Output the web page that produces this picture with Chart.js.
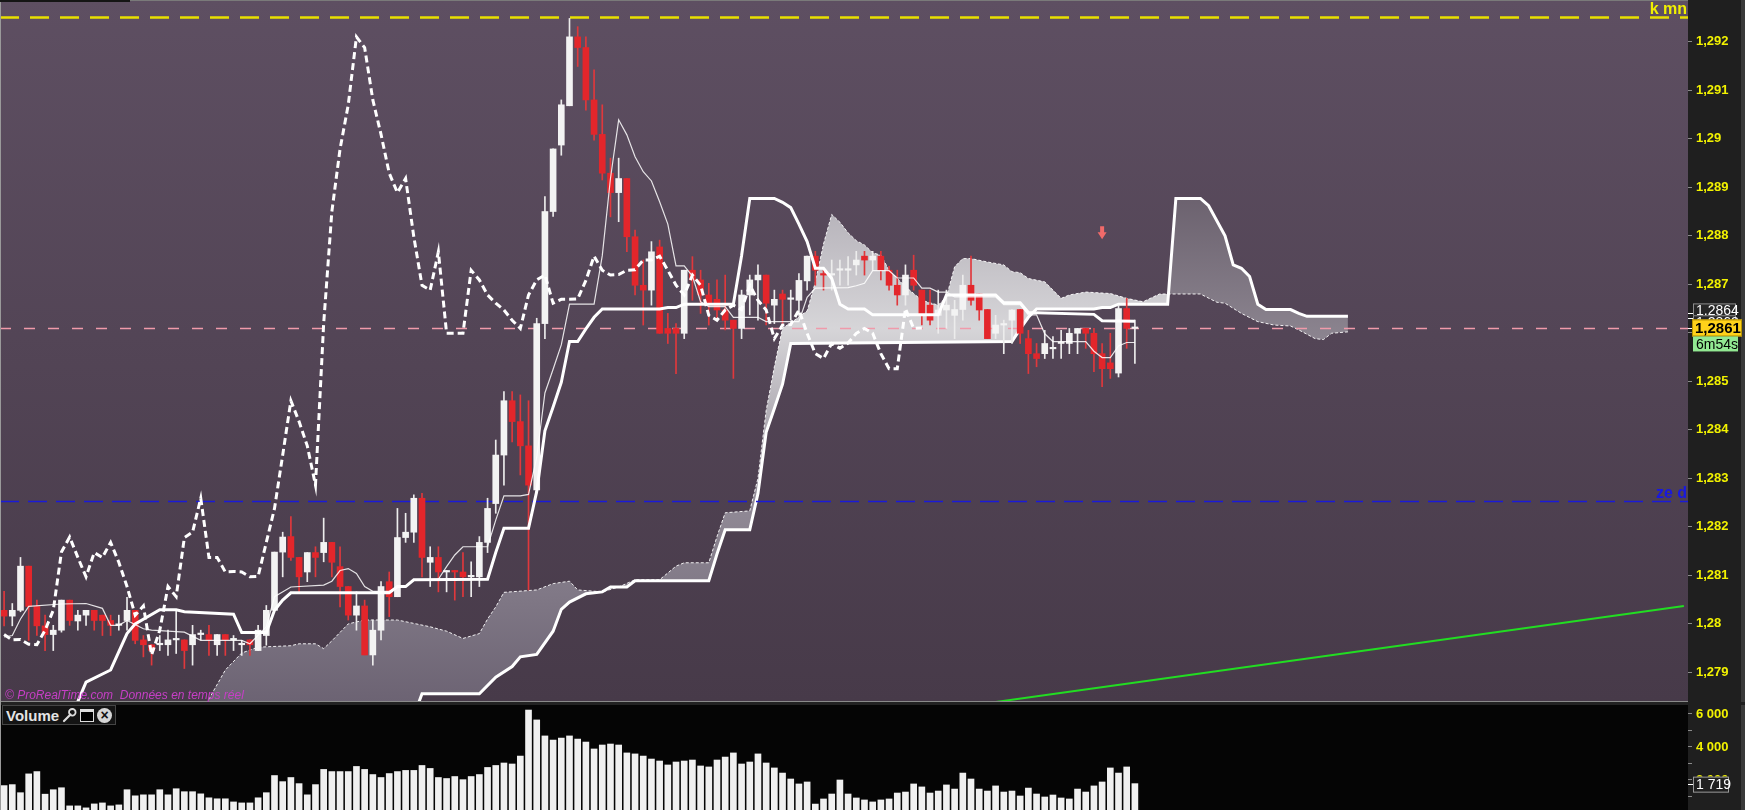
<!DOCTYPE html>
<html lang="fr">
<head>
<meta charset="utf-8">
<title>Ichimoku - Volume</title>
<script src="https://cdn.jsdelivr.net/npm/chart.js@4.4.0/dist/chart.umd.min.js"></script>
<style>
  html, body { margin:0; padding:0; width:1745px; height:810px; overflow:hidden; background:#1f1f1f;
               font-family:"Liberation Sans", Arial, sans-serif; }
  #pricePane { position:absolute; left:0; top:0; width:1745px; height:702px; }
  #volPane { position:absolute; left:0; top:705px; width:1745px; height:107px; }
  #sep { position:absolute; left:0; top:701px; width:1688px; height:4px; background:#222; border-top:1px solid #8a8a8a; box-sizing:border-box; }
  #leftEdge { position:absolute; left:0; top:0; width:1px; height:810px; background:#9a9a9a; }
  #topMark { position:absolute; left:0; top:0; width:130px; height:2px; background:#151515; }
  #watermark { position:absolute; left:5px; top:688px; font-size:12px; font-style:italic; color:#c63fc6; white-space:pre; }
  #volHead { position:absolute; left:2px; top:705px; height:18px; padding:0 3px; background:#141414; border:1px solid #454545;
             display:flex; align-items:center; gap:3px; color:#e4e4e4; font-weight:bold; font-size:15px; }
  #volHead .win { display:inline-block; width:12px; height:9px; border:1.5px solid #ddd; border-top:3px solid #ddd; background:#000; }
  #volHead .cls { display:inline-block; width:15px; height:15px; border-radius:50%; background:#d6d6d6; color:#111;
                  font-size:14px; line-height:14px; text-align:center; }
</style>
</head>
<body>
<div id="pricePane"><canvas id="priceCanvas" width="1745" height="702"></canvas></div>
<div id="sep"></div>
<div id="volPane"><canvas id="volCanvas" width="1745" height="107"></canvas></div>
<div id="leftEdge"></div>
<div id="topMark"></div>
<div id="watermark">© ProRealTime.com  Données en temps réel</div>
<div id="volHead"><span>Volume</span>
  <svg width="15" height="16" viewBox="0 0 15 16"><path d="M2 14 L8.5 7.5" stroke="#ddd" stroke-width="2.2" stroke-linecap="round"/><circle cx="10.3" cy="5.3" r="3.3" fill="none" stroke="#ddd" stroke-width="1.8"/></svg>
  <span class="win"></span><span class="cls">×</span></div>
<script>
// ---- bougies (1 par période) ----
const opens = [
  1.28028,1.28016,1.28028,1.28119,1.28036,1.27996,1.27978,1.27987,1.28049,1.28006,
  1.28018,1.28028,1.28018,1.28007,1.27997,1.28007,1.28028,1.27967,1.27957,1.27957,
  1.27957,1.27967,1.27967,1.27957,1.27978,1.27978,1.27957,1.27978,1.27967,1.27957,
  1.27967,1.27945,1.27976,1.28028,1.28148,1.28180,1.28137,1.28107,1.28147,1.28147,
  1.28168,1.28118,1.28077,1.28018,1.28037,1.27936,1.27987,1.28087,1.28056,1.28178,
  1.28189,1.28259,1.28127,1.28137,1.28107,1.28108,1.28107,1.28097,1.28097,1.28168,
  1.28248,1.28348,1.28460,1.28417,1.28367,1.28276,1.28619,1.28850,1.28987,1.29068,
  1.29210,1.29188,1.29080,1.29009,1.28929,1.28889,1.28918,1.28798,1.28698,1.28688,
  1.28777,1.28609,1.28609,1.28599,1.28729,1.28709,1.28678,1.28669,1.28647,1.28626,
  1.28609,1.28678,1.28709,1.28719,1.28657,1.28680,1.28669,1.28667,1.28707,1.28758,
  1.28720,1.28719,1.28729,1.28729,1.28740,1.28758,1.28750,1.28758,1.28729,1.28698,
  1.28678,1.28729,1.28688,1.28657,1.28636,1.28647,1.28636,1.28648,1.28698,1.28680,
  1.28648,1.28599,1.28616,1.28626,1.28648,1.28588,1.28557,1.28557,1.28567,1.28578,
  1.28578,1.28599,1.28609,1.28599,1.28557,1.28538,1.28517,1.28650,1.28609
];
const highs = [
  1.28067,1.28042,1.28137,1.28119,1.28049,1.28018,1.27997,1.28049,1.28049,1.28028,
  1.28028,1.28028,1.28018,1.28018,1.28018,1.28055,1.28028,1.27976,1.27957,1.27976,
  1.27987,1.28028,1.27967,1.27997,1.27987,1.27997,1.27978,1.27978,1.27976,1.27966,
  1.27967,1.27997,1.28038,1.28148,1.28189,1.28221,1.28137,1.28147,1.28159,1.28218,
  1.28168,1.28159,1.28077,1.28066,1.28049,1.28008,1.28087,1.28107,1.28238,1.28228,
  1.28266,1.28269,1.28159,1.28159,1.28110,1.28110,1.28147,1.28128,1.28180,1.28259,
  1.28379,1.28479,1.28479,1.28472,1.28460,1.28630,1.28881,1.28979,1.29080,1.29248,
  1.29231,1.29210,1.29142,1.29070,1.28960,1.28960,1.28918,1.28812,1.28750,1.28788,
  1.28791,1.28640,1.28619,1.28729,1.28757,1.28729,1.28702,1.28709,1.28719,1.28626,
  1.28688,1.28719,1.28740,1.28719,1.28688,1.28688,1.28688,1.28722,1.28758,1.28768,
  1.28729,1.28750,1.28750,1.28757,1.28768,1.28768,1.28768,1.28768,1.28737,1.28729,
  1.28740,1.28760,1.28688,1.28688,1.28688,1.28688,1.28667,1.28719,1.28758,1.28680,
  1.28648,1.28636,1.28626,1.28648,1.28648,1.28605,1.28578,1.28605,1.28592,1.28605,
  1.28609,1.28609,1.28609,1.28609,1.28578,1.28599,1.28657,1.28671,1.28626
];
const lows = [
  1.27996,1.27996,1.28025,1.27966,1.27976,1.27945,1.27945,1.27983,1.27997,1.27987,
  1.27997,1.27987,1.27976,1.27976,1.27987,1.27987,1.27959,1.27932,1.27915,1.27945,
  1.27935,1.27939,1.27908,1.27915,1.27967,1.27935,1.27935,1.27935,1.27945,1.27935,
  1.27935,1.27945,1.27956,1.28028,1.28097,1.28131,1.28066,1.28087,1.28097,1.28128,
  1.28097,1.28035,1.28008,1.27987,1.27936,1.27915,1.27967,1.28015,1.28056,1.28168,
  1.28168,1.28097,1.28077,1.28066,1.28066,1.28049,1.28056,1.28056,1.28077,1.28147,
  1.28228,1.28286,1.28375,1.28307,1.28070,1.28270,1.28588,1.28840,1.28966,1.29068,
  1.29149,1.29059,1.28997,1.28915,1.28839,1.28829,1.28767,1.28678,1.28616,1.28657,
  1.28599,1.28578,1.28516,1.28588,1.28667,1.28640,1.28616,1.28626,1.28606,1.28506,
  1.28588,1.28637,1.28626,1.28616,1.28619,1.28619,1.28626,1.28636,1.28688,1.28698,
  1.28688,1.28688,1.28698,1.28698,1.28719,1.28719,1.28729,1.28709,1.28688,1.28657,
  1.28657,1.28688,1.28616,1.28616,1.28599,1.28609,1.28588,1.28626,1.28657,1.28626,
  1.28588,1.28588,1.28557,1.28578,1.28578,1.28516,1.28530,1.28547,1.28547,1.28547,
  1.28557,1.28557,1.28568,1.28520,1.28489,1.28506,1.28509,1.28568,1.28537
];
const closes = [
  1.28016,1.28028,1.28119,1.28036,1.27996,1.27978,1.27987,1.28049,1.28007,1.28018,
  1.28028,1.28007,1.28007,1.27997,1.27998,1.28028,1.27966,1.27957,1.27945,1.27959,
  1.27967,1.27968,1.27945,1.27978,1.27979,1.27967,1.27978,1.27967,1.27968,1.27958,
  1.27957,1.27987,1.28028,1.28148,1.28179,1.28137,1.28097,1.28147,1.28137,1.28168,
  1.28127,1.28077,1.28018,1.28037,1.27936,1.27987,1.28077,1.28056,1.28178,1.28189,
  1.28259,1.28137,1.28137,1.28107,1.28108,1.28107,1.28097,1.28098,1.28168,1.28238,
  1.28348,1.28460,1.28417,1.28367,1.28286,1.28619,1.28850,1.28979,1.29070,1.29210,
  1.29188,1.29080,1.29009,1.28929,1.28889,1.28918,1.28798,1.28698,1.28688,1.28767,
  1.28599,1.28599,1.28599,1.28729,1.28709,1.28678,1.28661,1.28647,1.28626,1.28609,
  1.28678,1.28709,1.28719,1.28661,1.28669,1.28669,1.28670,1.28708,1.28758,1.28729,
  1.28719,1.28720,1.28729,1.28730,1.28750,1.28750,1.28758,1.28729,1.28698,1.28678,
  1.28719,1.28698,1.28636,1.28626,1.28647,1.28657,1.28648,1.28698,1.28667,1.28647,
  1.28588,1.28616,1.28617,1.28647,1.28599,1.28557,1.28547,1.28578,1.28568,1.28579,
  1.28599,1.28609,1.28599,1.28557,1.28526,1.28526,1.28650,1.28609,1.28610
];
const volumes = [
  1600,1660,1170,2310,2450,1080,1350,1470,370,370,
  250,490,550,370,430,1350,980,1040,1040,1350,
  1040,1410,1230,1230,1100,860,800,800,610,550,
  550,860,1170,2210,1840,2090,1720,1040,1660,2580,
  2450,2450,2450,2760,2580,2270,2090,2330,2450,2520,
  2520,2820,2640,2090,2030,2150,1960,2150,2270,2700,
  2820,2970,2910,3390,6180,5580,4610,4360,4480,4610,
  4420,4240,3820,4060,4120,4060,3580,3520,3390,3210,
  3090,2850,3030,3090,3150,2790,2730,3150,3330,3580,
  2910,3030,3520,2970,2670,2360,2000,1700,1820,480,
  790,1090,1940,1090,850,730,610,730,790,1150,
  1210,1700,1520,1150,1270,1640,1390,2360,2000,1390,
  1270,1580,1210,1270,970,1450,1090,910,1030,850,
  790,1390,1210,1580,1820,2670,2360,2730,1719
];
const volTickValues = [1000, 2000, 3000, 4000, 5000, 6000];
const volTickLabels = [2000, 4000, 6000];

// ---- Ichimoku : sommets [période, prix] ----
const tenkanPts = [[0,1.27973],[1,1.27976],[2,1.28010],[3,1.28036],[7,1.28041],[10,1.28042],[12,1.28032],[13,1.27997],[14,1.27997],
  [15,1.28007],[17,1.27990],[18,1.27987],[22,1.27983],[24,1.27966],[29,1.27966],[30,1.27959],[32,1.27994],[33,1.28056],[35,1.28076],
  [39,1.28080],[40,1.28088],[41,1.28110],[42,1.28114],[43,1.28104],[44,1.28077],[45,1.28067],[47,1.28067],[48,1.28077],[49,1.28077],
  [50,1.28091],[53,1.28092],[54,1.28118],[55,1.28142],[56,1.28159],[59,1.28159],[60,1.28214],[61,1.28264],[63,1.28264],[64,1.28267],
  [65,1.28343],[66,1.28476],[67,1.28525],[68,1.28575],[69,1.28659],[72,1.28659],[73,1.28759],[74,1.28918],[75,1.29039],[76,1.29008],
  [77,1.28963],[78,1.28932],[79,1.28913],[80,1.28870],[81,1.28824],[82,1.28738],[83,1.28738],[84,1.28717],[85,1.28664],[86,1.28654],
  [88,1.28654],[89,1.28632],[92,1.28632],[93,1.28623],[97,1.28623],[98,1.28673],[99,1.28692],[103,1.28693],[104,1.28697],[105,1.28702],
  [106,1.28728],[108,1.28728],[109,1.28713],[111,1.28713],[112,1.28692],[113,1.28692],[114,1.28684],[115,1.28684],[116,1.28674],
  [121,1.28674],[122,1.28658],[124,1.28658],[125,1.28637],[126,1.28637],[127,1.28598],[128,1.28582],[132,1.28582],[133,1.28562],
  [134,1.28549],[135,1.28549],[136,1.28573],[137,1.28580],[138,1.28580]];
const kijunPts = [[8,1.27800],[10,1.27880],[13,1.27905],[15,1.27980],[16,1.28000],[19,1.28029],[21,1.28029],[22,1.28025],[28,1.28020],
  [29,1.27982],[32,1.27982],[33,1.28028],[34,1.28049],[35,1.28064],[47,1.28064],[48,1.28077],[49,1.28077],[50,1.28091],[59,1.28092],
  [60,1.28147],[61,1.28197],[64,1.28197],[65,1.28273],[66,1.28398],[67,1.28447],[68,1.28498],[69,1.28582],[70,1.28582],[71,1.28608],
  [72,1.28632],[73,1.28649],[80,1.28649],[81,1.28652],[82,1.28652],[83,1.28659],[89,1.28659],[90,1.28759],[91,1.28877],[94,1.28877],
  [95,1.28869],[96,1.28858],[97,1.28824],[98,1.28788],[99,1.28733],[100,1.28733],[101,1.28712],[102,1.28659],[103,1.28649],[105,1.28649],
  [106,1.28637],[114,1.28637],[115,1.28678],[121,1.28678],[122,1.28662],[124,1.28662],[125,1.28642],[133,1.28638],[134,1.28625],[138,1.28624]];
const chikou = [
  1.27978,1.27967,1.27968,1.27958,1.27957,1.27987,1.28028,1.28148,1.28179,1.28137,
  1.28097,1.28147,1.28137,1.28168,1.28127,1.28077,1.28018,1.28037,1.27936,1.27987,
  1.28077,1.28056,1.28178,1.28189,1.28259,1.28137,1.28137,1.28107,1.28108,1.28107,
  1.28097,1.28098,1.28168,1.28238,1.28348,1.28460,1.28417,1.28367,1.28286,1.28619,
  1.28850,1.28979,1.29070,1.29210,1.29188,1.29080,1.29009,1.28929,1.28889,1.28918,
  1.28798,1.28698,1.28688,1.28767,1.28599,1.28599,1.28599,1.28729,1.28709,1.28678,
  1.28661,1.28647,1.28626,1.28609,1.28678,1.28709,1.28719,1.28661,1.28669,1.28669,
  1.28670,1.28708,1.28758,1.28729,1.28719,1.28720,1.28729,1.28730,1.28750,1.28750,
  1.28758,1.28729,1.28698,1.28678,1.28719,1.28698,1.28636,1.28626,1.28647,1.28657,
  1.28648,1.28698,1.28667,1.28647,1.28588,1.28616,1.28617,1.28647,1.28599,1.28557,
  1.28547,1.28578,1.28568,1.28579,1.28599,1.28609,1.28599,1.28557,1.28526,1.28526,
  1.28650,1.28609,1.28610
];
const spanAPts = [[23,1.27780],[25,1.27845],[27,1.27905],[29,1.27940],[31,1.27952],[35,1.27955],[36,1.27959],[38,1.27959],[39,1.27949],
  [40,1.27965],[42,1.28000],[44,1.28008],[48,1.28008],[50,1.28001],[52,1.27994],[54,1.27985],[56,1.27970],[58,1.27980],[59,1.28010],
  [60,1.28035],[61,1.28065],[65,1.28070],[67,1.28083],[69,1.28088],[70,1.28070],[73,1.28066],[75,1.28076],[77,1.28091],[80,1.28091],
  [82,1.28119],[83,1.28126],[86,1.28126],[87,1.28180],[88,1.28229],[91,1.28233],[92,1.28300],[93,1.28440],[94,1.28530],[95,1.28610],
  [96,1.28620],[97,1.28633],[98,1.28645],[99,1.28704],[100,1.28783],[101,1.28844],[102,1.28828],[103,1.28806],[104,1.28790],[105,1.28781],
  [106,1.28765],[107,1.28760],[108,1.28729],[110,1.28695],[111,1.28681],[112,1.28667],[114,1.28657],[115,1.28674],[116,1.28736],
  [117,1.28753],[118,1.28753],[120,1.28746],[122,1.28740],[123,1.28726],[124,1.28724],[125,1.28712],[127,1.28705],[128,1.28688],
  [129,1.28671],[130,1.28678],[132,1.28684],[135,1.28681],[137,1.28671],[139,1.28664],[141,1.28680],[146,1.28680],[148,1.28663],
  [149,1.28661],[151,1.28640],[153,1.28623],[155,1.28616],[157,1.28614],[158,1.28606],[160,1.28588],[161,1.28586],[162,1.28599],[164,1.28602]];
const spanBPts = [[23,1.27760],[50,1.27810],[51,1.27856],[58,1.27856],[60,1.27890],[62,1.27912],[63,1.27932],[65,1.27937],[67,1.27985],
  [68,1.28030],[69,1.28045],[71,1.28062],[73,1.28066],[74,1.28076],[76,1.28076],[77,1.28089],[86,1.28089],[87,1.28144],[88,1.28194],
  [91,1.28194],[92,1.28269],[93,1.28395],[94,1.28444],[95,1.28494],[96,1.28578],[123,1.28582],[124,1.28608],[125,1.28632],[126,1.28649],
  [133,1.28649],[134,1.28652],[135,1.28652],[136,1.28659],[142,1.28659],[143,1.28877],[146,1.28877],[147,1.28862],[149,1.28800],
  [150,1.28740],[151,1.28733],[152,1.28716],[153,1.28659],[154,1.28648],[157,1.28648],[158,1.28640],[159,1.28634],[164,1.28634]];
const trendPts = [[110,1.27813],[205,1.28037]];

// ---- niveaux et étiquettes ----
const levelValues = [1.29251, 1.28254, 1.28610];
const levelNames = ['k mn', 'ze d', ''];
const tagValues = [1.2864, 1.2863];
const lastPrice = 1.2861;
const timerText = '6m54s';
const signalIdx = [134];
const signalPrice = [1.28805];

const SLOTS = 206;
const slotLabels = Array.from({ length: SLOTS }, (_, i) => i);
const sparse = pts => { const a = new Array(SLOTS).fill(null); pts.forEach(([i, v]) => { a[i] = v; }); return a; };
const FONT = '"Liberation Sans", Arial, sans-serif';
const AXIS_W = 57;

const isUp = closes.map((c, i) => c >= opens[i]);
const bodyCol = isUp.map(u => u ? '#f3f3f3' : '#e3262b');
const wickCol = isUp.map(u => u ? '#ececec' : '#e0383c');

const pc = document.getElementById('priceCanvas');
const pctx = pc.getContext('2d');
const cloudUp = pctx.createLinearGradient(0, 190, 0, 702);
cloudUp.addColorStop(0, '#b2aeb6');
cloudUp.addColorStop(0.27, '#d6d5d8');
cloudUp.addColorStop(0.6, '#928b97');
cloudUp.addColorStop(1, '#6c6373');
const cloudDown = pctx.createLinearGradient(0, 190, 0, 345);
cloudDown.addColorStop(0, '#6a606d');
cloudDown.addColorStop(1, '#8d8691');

function drawTag(ctx, x, yc, w, h, fill, stroke, text, color, font) {
  ctx.fillStyle = fill;
  ctx.fillRect(x, yc - h / 2, w, h);
  if (stroke) { ctx.strokeStyle = stroke; ctx.lineWidth = 1; ctx.strokeRect(x + 0.5, yc - h / 2 + 0.5, w - 1, h - 1); }
  ctx.fillStyle = color; ctx.font = font; ctx.textAlign = 'left'; ctx.textBaseline = 'middle';
  ctx.fillText(text, x + 3, yc + 1);
}

const pricePlugin = {
  id: 'pricePlugin',
  beforeDraw(chart) {
    const { ctx, chartArea: a, width, height } = chart;
    ctx.save();
    ctx.fillStyle = '#1f1f1f';
    ctx.fillRect(0, 0, width, height);
    ctx.fillStyle = '#3a3a3a';
    ctx.fillRect(width - 4, 0, 4, height);
    const g = ctx.createLinearGradient(0, a.top, 0, a.bottom);
    g.addColorStop(0, '#5e4f62');
    g.addColorStop(1, '#473a49');
    ctx.fillStyle = g;
    ctx.fillRect(a.left, a.top, a.right - a.left, a.bottom - a.top);
    ctx.fillStyle = '#7a7a7a';
    ctx.fillRect(a.left, 0, a.right - a.left, 1);
    ctx.restore();
  },
  afterDatasetDraw(chart, args) {
    if (args.index !== 1) return;
    const { ctx, chartArea: a, scales: { y } } = chart;
    const colors = ['#e8e000', '#1a1ad8', '#f09aaa'];
    const widths = [2.5, 1.5, 1.3];
    const dashes = [[19, 11], [19, 9], [11, 13]];
    ctx.save();
    levelValues.forEach((v, k) => {
      const py = Math.round(y.getPixelForValue(v)) + 0.5;
      ctx.strokeStyle = colors[k]; ctx.lineWidth = widths[k]; ctx.setLineDash(dashes[k]);
      ctx.beginPath(); ctx.moveTo(a.left, py); ctx.lineTo(a.right, py); ctx.stroke();
    });
    ctx.restore();
  },
  afterDraw(chart) {
    const { ctx, chartArea: a, scales: { x, y } } = chart;
    ctx.save();
    // libellés des niveaux
    const colors = ['#f0f000', '#1818e0'];
    levelNames.forEach((name, k) => {
      if (!name) return;
      const py = y.getPixelForValue(levelValues[k]);
      ctx.fillStyle = colors[k]; ctx.font = 'bold 16px ' + FONT;
      ctx.textAlign = 'right'; ctx.textBaseline = 'alphabetic';
      ctx.fillText(name, a.right - 1, py - 3);
    });
    // flèche de signal
    ctx.fillStyle = '#f06a6a';
    signalIdx.forEach((idx, k) => {
      const ax = x.getPixelForValue(idx), ay = y.getPixelForValue(signalPrice[k]);
      ctx.beginPath();
      ctx.moveTo(ax - 2, ay - 7); ctx.lineTo(ax + 2, ay - 7); ctx.lineTo(ax + 2, ay - 1);
      ctx.lineTo(ax + 4.5, ay - 1); ctx.lineTo(ax, ay + 6); ctx.lineTo(ax - 4.5, ay - 1); ctx.lineTo(ax - 2, ay - 1);
      ctx.closePath(); ctx.fill();
    });
    // étiquettes de prix
    const fmt = v => v.toFixed(4).replace('.', ',');
    ctx.strokeStyle = '#ffffff'; ctx.lineWidth = 1;
    tagValues.concat([lastPrice]).forEach(v => {
      const py = Math.round(y.getPixelForValue(v)) + 0.5;
      ctx.beginPath(); ctx.moveTo(a.right, py); ctx.lineTo(a.right + 5, py); ctx.stroke();
    });
    const shift = [-3, 4];
    tagValues.forEach((v, k) => {
      drawTag(ctx, a.right + 5, y.getPixelForValue(v) + shift[k], 43, 14, '#262626', '#8c8c8c', fmt(v), '#ffffff', '14px ' + FONT);
    });
    const lp = y.getPixelForValue(lastPrice);
    drawTag(ctx, a.right + 4, lp, 50, 17, '#ffd21a', '#b89400', fmt(lastPrice), '#000000', 'bold 15px ' + FONT);
    drawTag(ctx, a.right + 5, lp + 16, 45, 15, '#92e892', null, timerText, '#000000', '14px ' + FONT);
    ctx.restore();
  }
};

new Chart(pctx, {
  type: 'bar',
  data: {
    labels: slotLabels,
    datasets: [
      { type: 'line', label: 'Senkou A', data: sparse(spanAPts), borderColor: 'rgba(255,255,255,0.9)', borderWidth: 1,
        borderDash: [3, 2], pointRadius: 0, spanGaps: true, tension: 0,
        fill: { target: 1, above: cloudUp, below: cloudDown }, order: 10 },
      { type: 'line', label: 'Senkou B', data: sparse(spanBPts), borderColor: '#ffffff', borderWidth: 3,
        pointRadius: 0, spanGaps: true, tension: 0, fill: false, order: 9 },
      { type: 'bar', label: 'Mèches', data: lows.map((l, i) => [l, highs[i]]), backgroundColor: wickCol,
        barThickness: 1, grouped: false, order: 6 },
      { type: 'bar', label: 'Corps', data: opens.map((o, i) => [o, closes[i]]), backgroundColor: bodyCol,
        barThickness: 6, minBarLength: 1.5, grouped: false, order: 5 },
      { type: 'line', label: 'Tenkan', data: sparse(tenkanPts), borderColor: 'rgba(255,255,255,0.85)', borderWidth: 1.2,
        pointRadius: 0, spanGaps: true, tension: 0, fill: false, order: 3 },
      { type: 'line', label: 'Kijun', data: sparse(kijunPts), borderColor: '#ffffff', borderWidth: 3,
        pointRadius: 0, spanGaps: true, tension: 0, fill: false, order: 2 },
      { type: 'line', label: 'Chikou', data: chikou, borderColor: '#ffffff', borderWidth: 3, borderDash: [7, 4],
        pointRadius: 0, tension: 0, fill: false, order: 1 },
      { type: 'line', label: 'Tendance', data: sparse(trendPts), borderColor: '#22dd22', borderWidth: 2,
        pointRadius: 0, spanGaps: true, tension: 0, fill: false, clip: 0, order: 1 }
    ]
  },
  options: {
    responsive: false, animation: false, events: [],
    layout: { padding: 0 },
    plugins: { legend: { display: false }, tooltip: { enabled: false } },
    scales: {
      x: { type: 'category', labels: slotLabels, offset: true, display: false },
      y: {
        position: 'right', min: 1.27839, max: 1.29286,
        afterFit: s => { s.width = AXIS_W; s.paddingTop = 0; s.paddingBottom = 0; },
        ticks: {
          stepSize: 0.001, includeBounds: false, autoSkip: false, padding: 4, color: '#f2f200',
          font: { family: FONT, weight: 'bold', size: 13 },
          callback: v => Math.abs(v - 1.286) < 1e-9 ? '' : String(+v.toFixed(3)).replace('.', ',')
        },
        grid: { drawOnChartArea: false, color: '#8a8a8a', tickLength: 4 },
        border: { display: false }
      }
    }
  },
  plugins: [pricePlugin]
});

// ---- volume ----
const volPlugin = {
  id: 'volPlugin',
  beforeDraw(chart) {
    const { ctx, chartArea: a, width, height } = chart;
    ctx.save();
    ctx.fillStyle = '#1f1f1f'; ctx.fillRect(0, 0, width, height);
    ctx.fillStyle = '#3a3a3a'; ctx.fillRect(width - 4, 0, 4, height);
    ctx.fillStyle = '#050505'; ctx.fillRect(a.left, a.top, a.right - a.left, a.bottom - a.top);
    ctx.restore();
  },
  afterDraw(chart) {
    const { ctx, chartArea: a, scales: { y } } = chart;
    ctx.save();
    // graduations de l'axe volume
    ctx.strokeStyle = '#8a8a8a'; ctx.lineWidth = 1;
    volTickValues.forEach(v => {
      const py = Math.round(y.getPixelForValue(v)) + 0.5;
      ctx.beginPath(); ctx.moveTo(a.right, py); ctx.lineTo(a.right + 4, py); ctx.stroke();
    });
    ctx.fillStyle = '#f2f200'; ctx.font = 'bold 13px ' + FONT;
    ctx.textAlign = 'left'; ctx.textBaseline = 'middle';
    volTickLabels.forEach(v => {
      ctx.fillText(String(v).replace(/\B(?=(\d{3})+(?!\d))/g, ' '), a.right + 8, y.getPixelForValue(v) + 1);
    });
    // dernier volume
    const last = volumes[volumes.length - 1];
    const py = y.getPixelForValue(last);
    ctx.strokeStyle = '#ffffff';
    ctx.beginPath(); ctx.moveTo(a.right, Math.round(py) + 0.5); ctx.lineTo(a.right + 5, Math.round(py) + 0.5); ctx.stroke();
    const txt = String(last).replace(/\B(?=(\d{3})+(?!\d))/g, ' ');
    drawTag(ctx, a.right + 5, py + 1, 36, 16, '#202020', '#9a9a9a', txt, '#ffffff', '14px ' + FONT);
    ctx.restore();
  }
};

new Chart(document.getElementById('volCanvas').getContext('2d'), {
  type: 'bar',
  data: {
    labels: slotLabels,
    datasets: [{ label: 'Volume', data: volumes, backgroundColor: '#f0f0f0', barThickness: 6 }]
  },
  options: {
    responsive: false, animation: false, events: [],
    layout: { padding: 0 },
    plugins: { legend: { display: false }, tooltip: { enabled: false } },
    scales: {
      x: { type: 'category', labels: slotLabels, offset: true, display: false },
      y: {
        position: 'right', min: 0, max: 6485,
        afterFit: s => { s.width = AXIS_W; s.paddingTop = 0; s.paddingBottom = 0; },
        ticks: { display: false },
        grid: { display: false },
        border: { display: false }
      }
    }
  },
  plugins: [volPlugin]
});
</script>
</body>
</html>
